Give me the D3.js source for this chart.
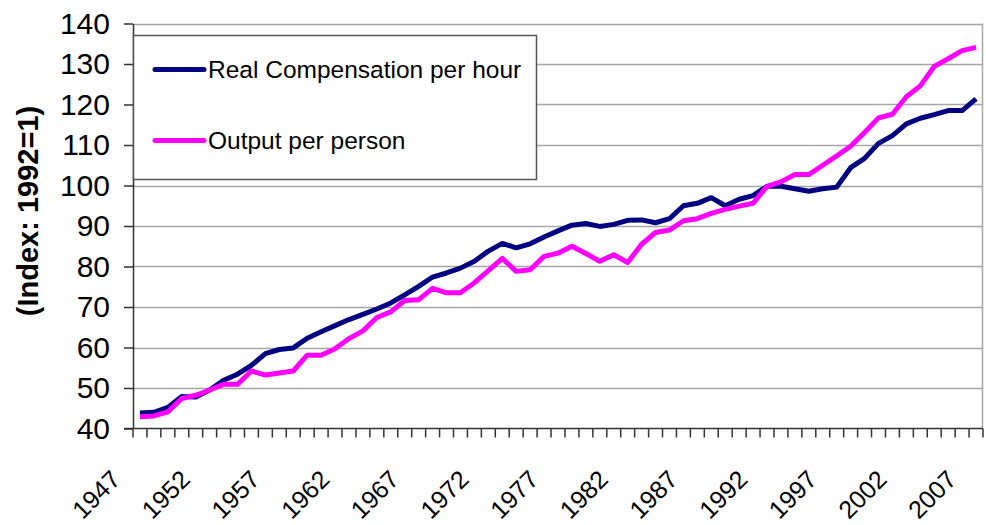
<!DOCTYPE html>
<html>
<head>
<meta charset="utf-8">
<script src="https://cdn.jsdelivr.net/npm/d3@7"></script>
<style>
  body { margin: 0; background: #fff; }
  svg { display: block; font-family: Arial, "Liberation Sans", sans-serif; }
</style>
</head>
<body>
<div id="chart"></div>
<script>
// categories: one per year
const years = d3.range(1947, 2008);

// Real compensation per hour (1992 = 100)
const compensation = [
  43.8, 44.0, 45.2, 47.9, 47.8, 49.5, 51.9, 53.4, 55.6, 58.5,
  59.5, 59.9, 62.3, 63.9, 65.4, 66.9, 68.2, 69.5, 71.0, 73.0,
  75.1, 77.4, 78.4, 79.6, 81.3, 83.8, 85.7, 84.6, 85.6, 87.3,
  88.8, 90.2, 90.6, 89.9, 90.4, 91.4, 91.5, 90.8, 91.8, 95.0,
  95.6, 97.0, 95.0, 96.6, 97.5, 99.8, 99.8, 99.2, 98.6, 99.2,
  99.6, 104.4, 106.7, 110.4, 112.3, 115.2, 116.6, 117.5, 118.5, 118.5,
  121.4
];

// Output per person (1992 = 100)
const output = [
  42.9, 43.1, 44.1, 47.4, 48.2, 49.5, 50.9, 50.9, 54.2, 53.2,
  53.7, 54.2, 58.1, 58.1, 59.7, 62.2, 64.1, 67.4, 68.8, 71.6,
  71.8, 74.6, 73.5, 73.5, 76.0, 79.0, 82.0, 78.8, 79.2, 82.5,
  83.3, 85.0, 83.2, 81.3, 82.9, 81.0, 85.5, 88.4, 89.0, 91.3,
  91.8, 93.1, 94.1, 94.9, 95.6, 99.8, 100.9, 102.7, 102.7, 105.0,
  107.3, 109.7, 113.1, 116.7, 117.6, 121.9, 124.6, 129.4, 131.3, 133.3,
  134.1
];

const yTicks = [40, 50, 60, 70, 80, 90, 100, 110, 120, 130, 140];
const xLabels = [1947, 1952, 1957, 1962, 1967, 1972, 1977, 1982, 1987, 1992, 1997, 2002, 2007];
const seriesNames = ['Real Compensation per hour', 'Output per person'];
const seriesColors = ['#000080', '#ff00ff'];

const w = 986,
      h = 525,
      plotLeft = 133,
      plotRight = 983,
      plotTop = 23.5,
      plotBottom = 428.5;

const svg = d3.select('#chart')
  .append('svg')
  .attr('width', w)
  .attr('height', h);

const x = d3.scaleBand().domain(years).range([plotLeft, plotRight]);
const y = d3.scaleLinear().domain([40, 140]).range([plotBottom, plotTop]);
const cx = yr => x(yr) + x.bandwidth() / 2;

// gridlines
svg.append('g')
  .selectAll('line')
  .data(yTicks.slice(1))
  .join('line')
  .attr('x1', plotLeft)
  .attr('x2', plotRight)
  .attr('y1', d => Math.round(y(d)) + 0.5)
  .attr('y2', d => Math.round(y(d)) + 0.5)
  .attr('stroke', '#a6a6a6')
  .attr('stroke-width', 1.5);

// plot area right border
svg.append('line')
  .attr('x1', plotRight - 0.5).attr('x2', plotRight - 0.5)
  .attr('y1', plotTop).attr('y2', plotBottom)
  .attr('stroke', '#a6a6a6')
  .attr('stroke-width', 1.5);

// y axis
const yAxis = svg.append('g')
  .attr('transform', `translate(${plotLeft}, 0)`)
  .call(d3.axisLeft(y).tickValues(yTicks).tickSize(9).tickSizeOuter(0).tickPadding(14));
yAxis.select('.domain').attr('stroke', '#333').attr('stroke-width', 1.5);
yAxis.selectAll('.tick line').attr('stroke', '#333').attr('stroke-width', 1.5);
yAxis.selectAll('.tick text')
  .attr('fill', '#000')
  .style('font-size', '30px');

// x axis line + category ticks
svg.append('line')
  .attr('x1', plotLeft - 9).attr('x2', plotRight)
  .attr('y1', plotBottom).attr('y2', plotBottom)
  .attr('stroke', '#333')
  .attr('stroke-width', 1.5);

svg.append('g')
  .selectAll('line')
  .data(years.concat(['end']))
  .join('line')
  .attr('x1', d => d === 'end' ? plotRight : x(d))
  .attr('x2', d => d === 'end' ? plotRight : x(d))
  .attr('y1', plotBottom)
  .attr('y2', plotBottom + 9)
  .attr('stroke', '#333')
  .attr('stroke-width', 1.5);

svg.append('g')
  .selectAll('text')
  .data(xLabels)
  .join('text')
  .attr('transform', d => `translate(${cx(d) - 18}, 481) rotate(-45)`)
  .attr('text-anchor', 'end')
  .style('font-size', '25px')
  .text(d => d);

// y title
svg.append('text')
  .attr('transform', 'translate(28, 211) rotate(-90)')
  .attr('text-anchor', 'middle')
  .attr('dy', '0.35em')
  .style('font-weight', 'bold')
  .style('font-size', '29px')
  .text('(Index: 1992=1)');

// series lines
const line = d3.line()
  .x((d, i) => cx(years[i]))
  .y(d => y(d));

[compensation, output].forEach((series, i) => {
  svg.append('path')
    .datum(series)
    .attr('d', line)
    .attr('fill', 'none')
    .attr('stroke', seriesColors[i])
    .attr('stroke-width', 5)
    .attr('stroke-linejoin', 'round');
});

// legend
const legend = svg.append('g').attr('id', 'legend');
legend.append('rect')
  .attr('x', 133.5)
  .attr('y', 35.5)
  .attr('width', 403)
  .attr('height', 144)
  .attr('fill', '#fff')
  .attr('stroke', '#555')
  .attr('stroke-width', 1.5);

const items = legend.selectAll('g.item')
  .data(seriesNames)
  .join('g')
  .attr('class', 'item')
  .attr('transform', (d, i) => `translate(0, ${i === 0 ? 69.5 : 140.5})`);

items.append('line')
  .attr('x1', 155).attr('x2', 204)
  .attr('stroke', (d, i) => seriesColors[i])
  .attr('stroke-width', 5)
  .attr('stroke-linecap', 'round');

items.append('text')
  .attr('x', 208)
  .attr('y', 8)
  .style('font-size', '24.5px')
  .text(d => d);
</script>
</body>
</html>
